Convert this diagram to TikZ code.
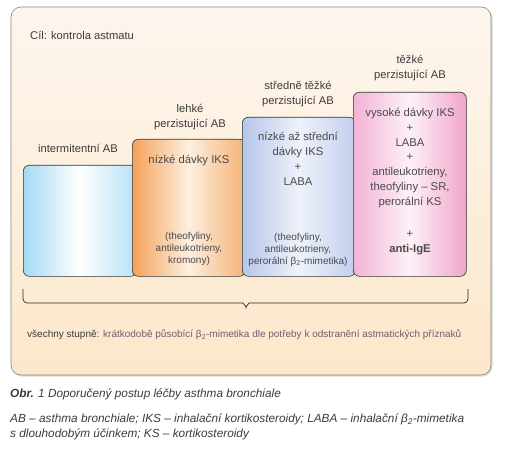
\documentclass[tikz,border=0pt]{standalone}
\usepackage{fontspec}
\setmainfont{Liberation Sans}
\definecolor{txt}{HTML}{3C3C3C}
\definecolor{boxtxt}{HTML}{4A4A4A}
\definecolor{frameline}{HTML}{8A8580}
\definecolor{bgtop}{HTML}{FDF6EE}
\definecolor{bgbot}{HTML}{FCE7CA}
\definecolor{blueL}{HTML}{A4DAF5}
\definecolor{blueR}{HTML}{B6E1F7}
\definecolor{oraL}{HTML}{F4A25A}
\definecolor{oraR}{HTML}{F6B274}
\definecolor{oraM}{HTML}{FDEFE0}
\definecolor{bgrL}{HTML}{B5C6EA}
\definecolor{bgrR}{HTML}{C2CFEE}
\definecolor{bgrM}{HTML}{EEF2FA}
\definecolor{pinL}{HTML}{F3B3D5}
\definecolor{pinR}{HTML}{F1A4CB}
\definecolor{pinM}{HTML}{FDF1F7}
\definecolor{purp}{HTML}{6E5E70}
\begin{document}
\begin{tikzpicture}[x=1pt,y=-1pt,
  stepbox/.style={draw=black!80, line width=0.6pt, rounded corners=6pt,
    rectangle, anchor=north west, inner sep=0pt, minimum width=113pt},
  lbl/.style={text=txt, font=\fontsize{11.2}{14.5}\selectfont, align=center, inner sep=0pt},
  intxt/.style={text=boxtxt, font=\fontsize{11.3}{14.8}\selectfont, align=center, inner sep=0pt},
  partxt/.style={text=boxtxt, font=\fontsize{10}{11.8}\selectfont, align=center, inner sep=0pt},
  captxt/.style={text=txt, font=\fontsize{11.8}{15}\selectfont\itshape, align=left, inner sep=0pt, anchor=west}
]
\useasboundingbox (0,0) rectangle (506,449);
\fill[white] (0,0) rectangle (506,449);
% frame with shadow
\fill[black!15, rounded corners=10pt] (12.5,8.5) rectangle (492.5,376.5);
\shade[top color=bgtop, bottom color=bgbot, draw=frameline, line width=0.6pt, rounded corners=10pt] (11,7) rectangle (491,375);

\node[lbl, anchor=west] (goal) at (30,35) {Cíl: kontrola astmatu};

% step boxes
\node[stepbox, minimum height=111pt, left color=blueL, right color=blueR, middle color=white] (b1) at (23,165) {};
\node[stepbox, minimum height=137pt, left color=oraL, right color=oraR, middle color=oraM] (b2) at (132,139) {};
\node[stepbox, minimum height=159pt, left color=bgrL, right color=bgrR, middle color=bgrM] (b3) at (242,117) {};
\node[stepbox, minimum height=184pt, left color=pinL, right color=pinR, middle color=pinM] (b4) at (353,92) {};

% labels above
\node[lbl] (l1) at (78,148) {intermitentní AB};
\node[lbl] (l2) at (190,117) {lehké\\perzistující AB};
\node[lbl] (l3) at (298,94) {středně těžké\\perzistující AB};
\node[lbl] (l4) at (410,68) {těžké\\perzistující AB};

% texts in boxes
\node[intxt] (t2) at (189,161) {nízké dávky IKS};
\node[partxt] (p2) at (189,249) {(theofyliny,\\antileukotrieny,\\kromony)};

\node[intxt] (t3) at (298,159) {nízké až střední\\dávky IKS\\+\\LABA};
\node[partxt] (p3) at (298,250) {(theofyliny,\\antileukotrieny,\\perorální β\textsubscript{2}-mimetika)};

\node[intxt] (t4) at (410,158) {vysoké dávky IKS\\+\\LABA\\+\\antileukotrieny,\\theofyliny -- SR,\\perorální KS};
\node[intxt] (t5) at (410,243) {+\\\textbf{anti-IgE}};

% brace
\draw[black!85, line width=0.7pt, rounded corners=4pt]
  (23,289) -- (23,303) -- (239,303)
  .. controls (243,303) and (246,307) .. (246,311)
  .. controls (246,307) and (249,303) .. (253,303)
  -- (468,303) -- (468,289);

\node[lbl, anchor=west, font=\fontsize{10}{12}\selectfont] (all) at (27,335)
  {všechny stupně: \textcolor{purp}{krátkodobě působící β\textsubscript{2}-mimetika dle potřeby k odstranění astmatických příznaků}};

% caption
\node[captxt] (cap) at (10,394) {\textbf{Obr.} 1 Doporučený postup léčby asthma bronchiale};
\node[captxt, anchor=north west] (leg) at (10,414) {AB -- asthma bronchiale; IKS -- inhalační kortikosteroidy; LABA -- inhalační β\textsubscript{2}-mimetika\\s dlouhodobým účinkem; KS -- kortikosteroidy};
\end{tikzpicture}
\end{document}
